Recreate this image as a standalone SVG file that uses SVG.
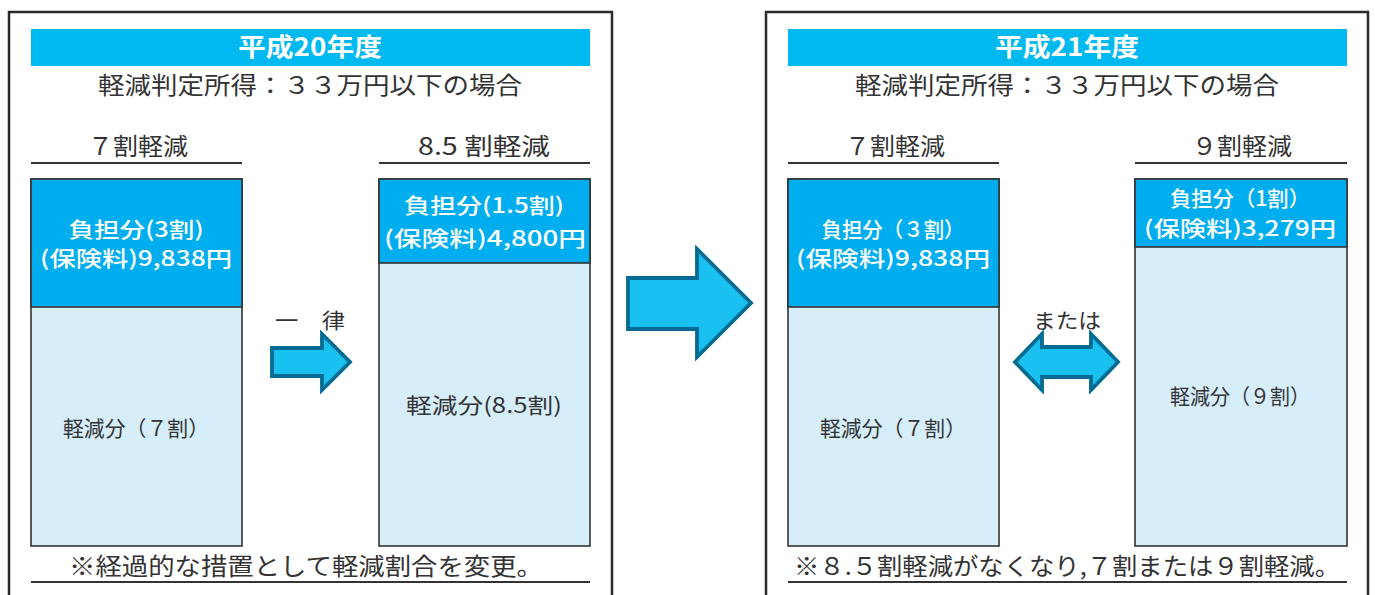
<svg xmlns="http://www.w3.org/2000/svg" width="1375" height="595" viewBox="0 0 1375 595">
<style>
text{font-family:"Noto Sans CJK JP","Noto Sans",sans-serif;text-anchor:middle}
.frame{fill:none;stroke:#2b2b2b;stroke-width:2.5}
.bar{fill:#00b9f0}
.ht{fill:#fff;font-size:25px;font-weight:bold}
.sub{fill:#333;font-size:24px}
.lbl{fill:#333;font-size:24px}
.rule{stroke:#333;stroke-width:1.8}
.box{stroke:#333;stroke-width:1.6}
.dark{fill:#00aeef}
.light{fill:#d6edfa}
.wt{fill:#fff;font-size:21px;font-weight:500}
.gt{fill:#333;font-size:21px}
.arrow{fill:#19c1f0;stroke:#006b93;stroke-width:3.8;stroke-linejoin:miter}
</style>
<g id="left-panel">
<path class="frame" d="M9,595 V12 H612 V595"/>
<rect class="bar" x="31" y="29" width="559" height="37"/>
<text class="ht" x="310" y="56" textLength="144" lengthAdjust="spacingAndGlyphs">平成20年度</text>
<text class="sub" x="310" y="94" textLength="424" lengthAdjust="spacingAndGlyphs">軽減判定所得：３３万円以下の場合</text>
<text class="lbl" x="138" y="155" textLength="100" lengthAdjust="spacingAndGlyphs">７割軽減</text>
<line class="rule" x1="31" y1="163" x2="242" y2="163"/>
<text class="lbl" x="484" y="155" textLength="132" lengthAdjust="spacingAndGlyphs">8.5 割軽減</text>
<line class="rule" x1="379" y1="163" x2="590" y2="163"/>
<text class="lbl" x="306" y="575" textLength="474" lengthAdjust="spacingAndGlyphs">※経過的な措置として軽減割合を変更。</text>
<line class="rule" x1="31" y1="582" x2="590" y2="582"/>
<text class="gt" x="310" y="328" textLength="70" lengthAdjust="spacingAndGlyphs">一　律</text>
</g>
<g id="node-l1">
<rect class="box light" x="31" y="179" width="211" height="367"/>
<rect class="box dark" x="31" y="179" width="211" height="128"/>
<text class="wt" x="136" y="237" textLength="135" lengthAdjust="spacingAndGlyphs">負担分(3割)</text>
<text class="wt" x="136" y="266" textLength="192" lengthAdjust="spacingAndGlyphs">(保険料)9,838円</text>
<text class="gt" x="136" y="436" textLength="146" lengthAdjust="spacingAndGlyphs">軽減分（７割）</text>
</g>
<g id="node-l2">
<rect class="box light" x="379" y="179" width="211" height="367"/>
<rect class="box dark" x="379" y="179" width="211" height="84"/>
<text class="wt" x="484" y="213" textLength="160" lengthAdjust="spacingAndGlyphs">負担分(1.5割)</text>
<text class="wt" x="485" y="246" textLength="202" lengthAdjust="spacingAndGlyphs">(保険料)4,800円</text>
<text class="gt" x="484" y="413" textLength="156" lengthAdjust="spacingAndGlyphs">軽減分(8.5割)</text>
</g>
<g id="right-panel">
<path class="frame" d="M766,595 V12 H1368 V595"/>
<rect class="bar" x="788" y="29" width="559" height="37"/>
<text class="ht" x="1067" y="56" textLength="144" lengthAdjust="spacingAndGlyphs">平成21年度</text>
<text class="sub" x="1067" y="94" textLength="424" lengthAdjust="spacingAndGlyphs">軽減判定所得：３３万円以下の場合</text>
<text class="lbl" x="895" y="155" textLength="100" lengthAdjust="spacingAndGlyphs">７割軽減</text>
<line class="rule" x1="788" y1="163" x2="999" y2="163"/>
<text class="lbl" x="1242" y="155" textLength="100" lengthAdjust="spacingAndGlyphs">９割軽減</text>
<line class="rule" x1="1135" y1="163" x2="1347" y2="163"/>
<text class="lbl" x="1067" y="575" textLength="546" lengthAdjust="spacingAndGlyphs">※８.５割軽減がなくなり,７割または９割軽減。</text>
<line class="rule" x1="788" y1="582" x2="1347" y2="582"/>
<text class="gt" x="1067" y="328" textLength="68" lengthAdjust="spacingAndGlyphs">または</text>
</g>
<g id="node-r1">
<rect class="box light" x="788" y="179" width="211" height="367"/>
<rect class="box dark" x="788" y="179" width="211" height="128"/>
<text class="wt" x="893" y="237" textLength="143" lengthAdjust="spacingAndGlyphs">負担分（３割）</text>
<text class="wt" x="893" y="266" textLength="194" lengthAdjust="spacingAndGlyphs">(保険料)9,838円</text>
<text class="gt" x="893" y="436" textLength="146" lengthAdjust="spacingAndGlyphs">軽減分（７割）</text>
</g>
<g id="node-r2">
<rect class="box light" x="1135" y="179" width="212" height="367"/>
<rect class="box dark" x="1135" y="179" width="212" height="68"/>
<text class="wt" x="1240" y="206" textLength="140" lengthAdjust="spacingAndGlyphs">負担分（1割）</text>
<text class="wt" x="1240" y="236" textLength="192" lengthAdjust="spacingAndGlyphs">(保険料)3,279円</text>
<text class="gt" x="1240" y="404" textLength="140" lengthAdjust="spacingAndGlyphs">軽減分（９割）</text>
</g>
<g id="connectors">
<polygon class="arrow" points="272,348 322,348 322,334 350,362 322,390 322,376 272,376"/>
<polygon class="arrow" points="628,278 697,278 697,249 751,303 697,357 697,329 628,329"/>
<polygon class="arrow" points="1015,362 1042,334 1042,347 1091,347 1091,334 1118,362 1091,390 1091,377 1042,377 1042,390"/>
</g>
</svg>
